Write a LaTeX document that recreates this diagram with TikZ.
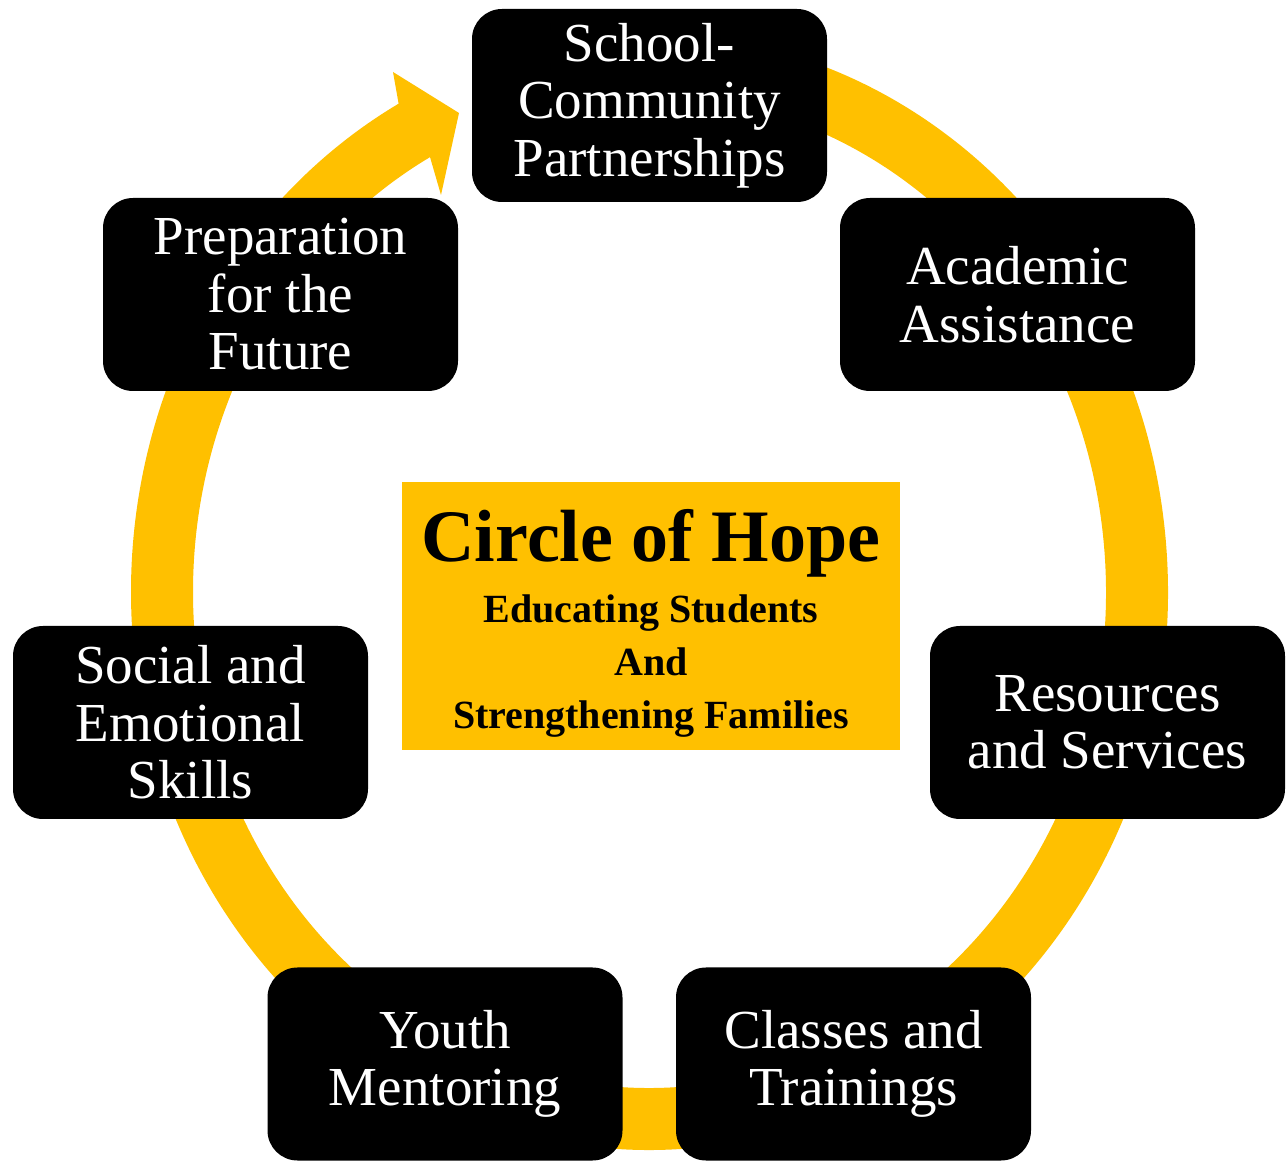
\documentclass[tikz,border=0pt]{standalone}
\usepackage{fontspec}
\setmainfont{Liberation Serif}
\definecolor{gold}{HTML}{FFC000}
\begin{document}
\begin{tikzpicture}[x=1pt,y=1pt,
  stage/.style={fill=black, rounded corners=30pt, minimum width=355pt, minimum height=193pt,
    text=white, align=center, font=\fontsize{55}{57.5}\selectfont, inner sep=0pt},
  ring/.style={draw=gold, line width=62pt}]
\useasboundingbox (0,0) rectangle (1286,1163);
% ring with arrow
\coordinate (ringc) at (649.5,571);
\draw[ring] (ringc) ++(95:487.5 and 527) arc[start angle=95, end angle=-241.5, x radius=487.5, y radius=527];
\fill[gold] (398.6,1059.4) -- (393,1091) -- (459,1050) -- (441,968) -- (430,1006) -- cycle;
% stages
\node[stage] (school) at (649.5,1057.5) {School-\\Community\\Partnerships};
\node[stage] (academic) at (1017.5,868.5) {Academic\\Assistance};
\node[stage] (resources) at (1107.5,440.5) {Resources\\and Services};
\node[stage] (classes) at (853.5,99) {Classes and\\Trainings};
\node[stage] (youth) at (445,99) {Youth\\Mentoring};
\node[stage] (social) at (190.5,440.5) {Social and\\Emotional\\Skills};
\node[stage] (future) at (280.5,868.5) {Preparation\\for the\\Future};
% hub
\node[fill=gold, minimum width=498pt, minimum height=268pt, inner sep=0pt] (hub) at (651,547) {};
\node[anchor=base, font=\fontsize{74}{80}\selectfont\bfseries, inner sep=0pt] (title) at (651,601) {Circle of Hope};
\node[align=center, font=\fontsize{40}{53}\selectfont\bfseries, inner sep=0pt] (motto) at (651,497) {Educating Students\\And\\Strengthening Families};
\end{tikzpicture}
\end{document}
